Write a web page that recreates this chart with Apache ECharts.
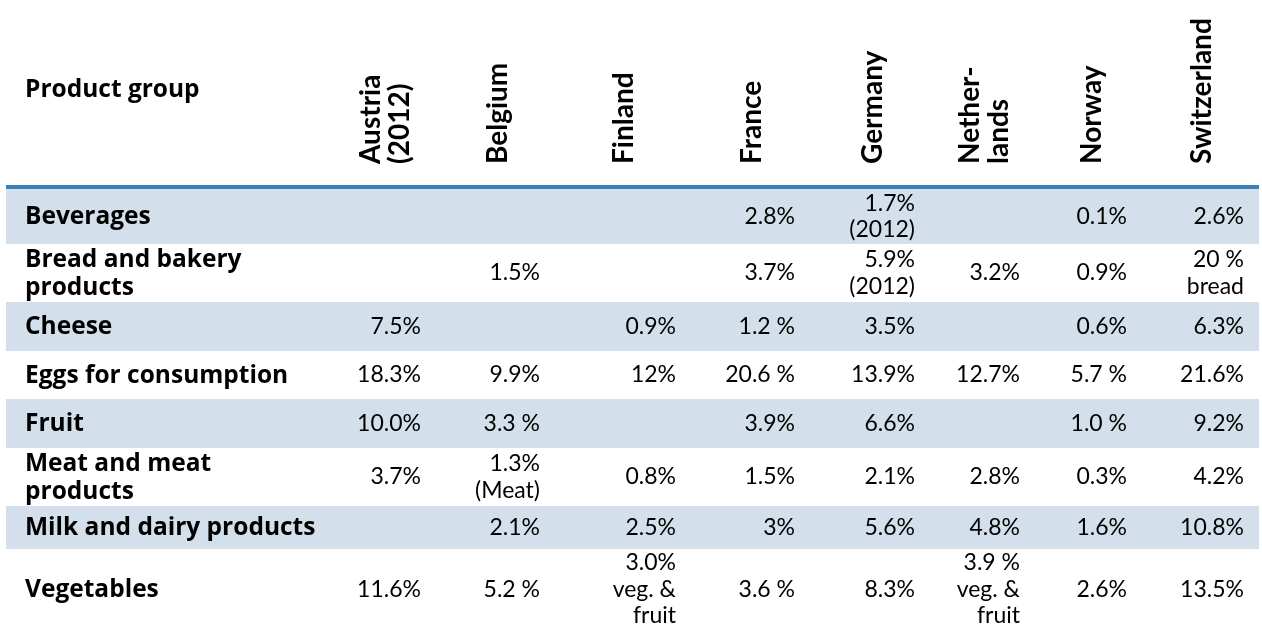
<!DOCTYPE html>
<html><head><meta charset="utf-8">
<script src="https://cdn.jsdelivr.net/npm/echarts@6/dist/echarts.min.js"></script>
<style>html,body{margin:0;padding:0;background:#fff}#c{width:1262px;height:630px}</style>
</head><body><div id="c"></div>
<script>
// ---- data ----
const headerTitle = 'Product group';
const countries = ['Austria\n(2012)', 'Belgium', 'Finland', 'France', 'Germany', 'Nether-\nlands', 'Norway', 'Switzerland'];
const products = ['Beverages', 'Bread and bakery\nproducts', 'Cheese', 'Eggs for consumption', 'Fruit', 'Meat and meat\nproducts', 'Milk and dairy products', 'Vegetables'];
const austria     = ['', '', '7.5%', '18.3%', '10.0%', '3.7%', '', '11.6%'];
const belgium     = ['', '1.5%', '', '9.9%', '3.3 %', '1.3%\n(Meat)', '2.1%', '5.2 %'];
const finland     = ['', '', '0.9%', '12%', '', '0.8%', '2.5%', '3.0%\nveg. &\nfruit'];
const france      = ['2.8%', '3.7%', '1.2 %', '20.6 %', '3.9%', '1.5%', '3%', '3.6 %'];
const germany     = ['1.7%\n(2012)', '5.9%\n(2012)', '3.5%', '13.9%', '6.6%', '2.1%', '5.6%', '8.3%'];
const netherlands = ['', '3.2%', '', '12.7%', '', '2.8%', '4.8%', '3.9 %\nveg. &\nfruit'];
const norway      = ['0.1%', '0.9%', '0.6%', '5.7 %', '1.0 %', '0.3%', '1.6%', '2.6%'];
const switzerland = ['2.6%', '20 %\nbread', '6.3%', '21.6%', '9.2%', '4.2%', '10.8%', '13.5%'];
const columns = [austria, belgium, finland, france, germany, netherlands, norway, switzerland];

// ---- layout (positions in page units, mapped through the value axes) ----
const colRight = [421, 540, 676, 795, 915, 1020, 1127, 1244];
const headerCenter = [385, 498, 624, 752, 873, 984, 1092, 1202];
const headerBase = 164;
const rowEdges = [189, 244, 302, 351, 399, 448, 506, 549, 630];
const tableLeft = 6, tableRight = 1259, labelX = 25;
const FONT = 'Lato';
const LABEL_FONT = '"Open Sans"';
const INK = '#000000';
const BAND = '#d3e0eb';
const RULE = '#3c80bb';

const cellData = [];
columns.forEach((col, c) => col.forEach((v, r) => { if (v) cellData.push({c: c, r: r, t: v}); }));

const chart = echarts.init(document.getElementById('c'), null, {renderer: 'canvas'});
chart.setOption({
  animation: false,
  grid: {left: 0, right: 0, top: 0, bottom: 0},
  xAxis: {type: 'value', min: 0, max: 1262, show: false},
  yAxis: {type: 'value', min: 0, max: 630, inverse: true, show: false},
  series: [
    { // row bands
      type: 'custom', silent: true,
      data: products.map((p, i) => [i, i]),
      renderItem: (params, api) => {
        const r = params.dataIndex;
        if (r % 2) return null;
        const p0 = api.coord([tableLeft, rowEdges[r]]);
        const p1 = api.coord([tableRight, rowEdges[r + 1]]);
        return {type: 'rect', shape: {x: p0[0], y: p0[1], width: p1[0] - p0[0], height: p1[1] - p0[1]}, style: {fill: BAND}};
      }
    },
    { // header rule
      type: 'custom', silent: true,
      data: [[0, 0]],
      renderItem: (params, api) => {
        const p0 = api.coord([tableLeft, 185]);
        const p1 = api.coord([tableRight, 189]);
        return {type: 'rect', shape: {x: p0[0], y: p0[1], width: p1[0] - p0[0], height: p1[1] - p0[1]}, style: {fill: RULE}};
      }
    },
    { // product group title
      type: 'custom', silent: true,
      data: [[0, 0]],
      renderItem: (params, api) => {
        const p = api.coord([labelX, 90]);
        return {type: 'text', x: p[0], y: p[1], style: {text: headerTitle, fill: INK, fontFamily: LABEL_FONT, fontWeight: 'bold', fontSize: 24.5, align: 'left', verticalAlign: 'middle'}};
      }
    },
    { // country headers (rotated)
      type: 'custom', silent: true,
      data: countries.map((c, i) => [i, 0]),
      renderItem: (params, api) => {
        const i = params.dataIndex;
        const p = api.coord([headerCenter[i], headerBase]);
        return {type: 'text', x: p[0], y: p[1], rotation: Math.PI / 2,
          style: {text: countries[i], fill: INK, fontFamily: FONT, fontWeight: 'bold', fontSize: 28, lineHeight: 29, align: 'left', verticalAlign: 'middle'}};
      }
    },
    { // row labels
      type: 'custom', silent: true,
      data: products.map((p, i) => [0, i]),
      renderItem: (params, api) => {
        const r = params.dataIndex;
        const p = api.coord([labelX, (rowEdges[r] + rowEdges[r + 1]) / 2 + 1]);
        return {type: 'text', x: p[0], y: p[1],
          style: {text: products[r], fill: INK, fontFamily: LABEL_FONT, fontWeight: 'bold', fontSize: 24.5, lineHeight: 28, align: 'left', verticalAlign: 'middle'}};
      }
    },
    { // cells
      type: 'custom', silent: true,
      data: cellData.map(d => [d.c, d.r]),
      renderItem: (params, api) => {
        const d = cellData[params.dataIndex];
        const p = api.coord([colRight[d.c], (rowEdges[d.r] + rowEdges[d.r + 1]) / 2]);
        return {type: 'text', x: p[0], y: p[1],
          style: {text: d.t, fill: INK, fontFamily: FONT, fontWeight: 'normal', fontSize: 23, lineHeight: 26.5, align: 'right', verticalAlign: 'middle'}};
      }
    }
  ]
});
</script></body></html>
